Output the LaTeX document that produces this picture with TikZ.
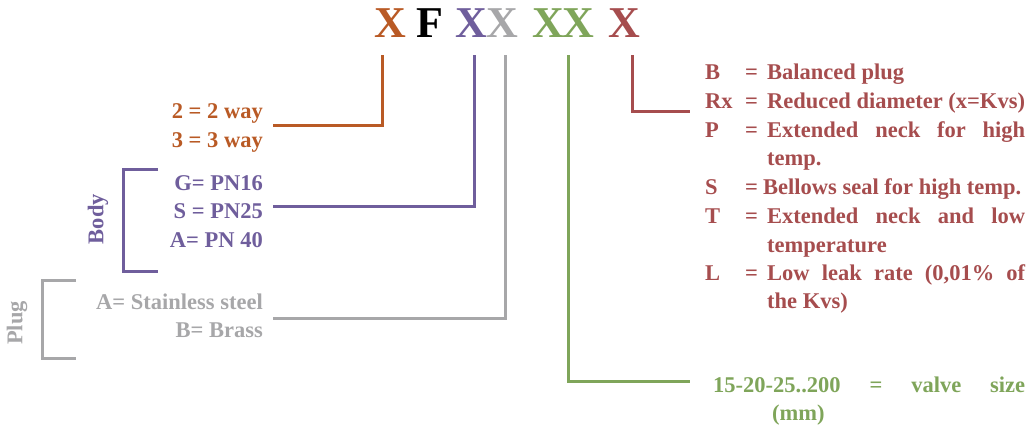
\documentclass[tikz,border=0pt]{standalone}
\usepackage{fontspec}
\setmainfont{Liberation Serif}
\definecolor{corange}{HTML}{B95A25}
\definecolor{cpurple}{HTML}{6F5E9C}
\definecolor{cgrey}{HTML}{A7A7A9}
\definecolor{cgreen}{HTML}{7FA55A}
\definecolor{cred}{HTML}{A64D4E}
\begin{document}
\begin{tikzpicture}[x=1pt,y=-1pt,
  title/.style={font=\fontsize{44}{48}\selectfont\bfseries, inner sep=0pt, anchor=base},
  txt/.style={font=\fontsize{22.5}{26}\selectfont\bfseries, inner sep=0pt},
  lbl/.style={txt, anchor=base east},
  rtx/.style={txt, anchor=base west, text=cred},
  link/.style={line width=3pt, line join=miter}
]
\useasboundingbox (0,0) rectangle (1027,429);
% title letters
\node[title, text=corange] (t1) at (390,37) {X};
\node[title, text=black]   (t2) at (430,37) {F};
\node[title, text=cpurple] (t3) at (471,37) {X};
\node[title, text=cgrey]   (t4) at (502,37) {X};
\node[title, text=cgreen]  (t5) at (548,37) {X};
\node[title, text=cgreen]  (t6) at (578,37) {X};
\node[title, text=cred]    (t7) at (624,37) {X};

% orange group
\node[lbl, text=corange] (o1) at (263,118) {2 = 2 way};
\node[lbl, text=corange] (o2) at (263,147) {3 = 3 way};
% purple group
\node[lbl, text=cpurple] (p1) at (263,190) {G= PN16};
\node[lbl, text=cpurple] (p2) at (263,218) {S = PN25};
\node[lbl, text=cpurple] (p3) at (263,247) {A= PN 40};
\node[txt, text=cpurple, rotate=90] (body) at (98,219) {Body};
% grey group
\node[lbl, text=cgrey] (g1) at (263,309) {A= Stainless steel};
\node[lbl, text=cgrey] (g2) at (263,337) {B= Brass};
\node[txt, text=cgrey, rotate=90] (plug) at (17,323) {Plug};

% red group
\node[rtx] (rB)  at (705,79)  {B};
\node[rtx] (rBe) at (745,79)  {=};
\node[rtx] (rBt) at (767,79)  {Balanced plug};
\node[rtx] (rR)  at (705,108) {Rx};
\node[rtx] (rRe) at (745,108) {=};
\node[rtx] (rRt) at (767,108) {Reduced diameter (x=Kvs)};
\node[rtx] (rP)  at (705,137) {P};
\node[rtx] (rPe) at (745,137) {=};
\node[rtx] (rPt) at (767,137) {\makebox[258pt][s]{Extended neck for high}};
\node[rtx] (rP2) at (767,165) {temp.};
\node[rtx] (rS)  at (705,194) {S};
\node[rtx] (rSe) at (745,194) {=};
\node[rtx] (rSt) at (763,194) {Bellows seal for high temp.};
\node[rtx] (rT)  at (705,223) {T};
\node[rtx] (rTe) at (745,223) {=};
\node[rtx] (rTt) at (767,223) {\makebox[258pt][s]{Extended neck and low}};
\node[rtx] (rT2) at (767,252) {temperature};
\node[rtx] (rL)  at (705,280) {L};
\node[rtx] (rLe) at (745,280) {=};
\node[rtx] (rLt) at (767,280) {\makebox[258pt][s]{Low leak rate (0,01\% of}};
\node[rtx] (rL2) at (767,308) {the Kvs)};

% green group
\node[txt, anchor=base west, text=cgreen] (v1) at (713,392) {\makebox[312pt][s]{15-20-25..200 = valve size}};
\node[txt, anchor=base west, text=cgreen] (v2) at (772,420) {(mm)};

% connector ends
\coordinate (ot) at (382,55);  \coordinate (oe) at (273,125);
\coordinate (pt) at (474,55);  \coordinate (pe) at (273,206);
\coordinate (gt) at (505,55);  \coordinate (ge) at (273,318);
\coordinate (vt) at (568,55);  \coordinate (ve) at (690,381);
\coordinate (rt) at (632,55);  \coordinate (re) at (690,111);

\draw[link, corange] (ot) |- (oe);
\draw[link, cpurple] (pt) |- (pe);
\draw[link, cgrey]   (gt) |- (ge);
\draw[link, cgreen]  (vt) |- (ve);
\draw[link, cred]    (rt) |- (re);

% brackets
\coordinate (b1) at (158,169); \coordinate (b2) at (158,271);
\draw[link, cpurple] (b1) -- (123,169) -- (123,271) -- (b2);
\coordinate (c1) at (76,280); \coordinate (c2) at (76,358);
\draw[link, cgrey] (c1) -- (42,280) -- (42,358) -- (c2);
\end{tikzpicture}
\end{document}
